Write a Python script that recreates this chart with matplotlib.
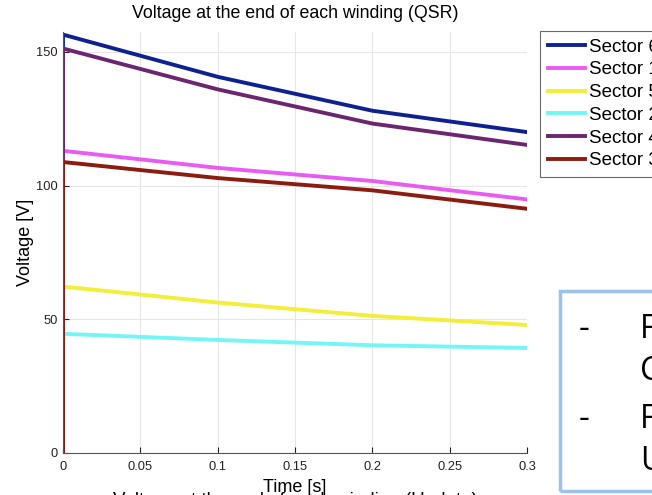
import matplotlib.pyplot as plt
from matplotlib.patches import Rectangle

plt.rcParams['font.family'] = ['Liberation Sans', 'DejaVu Sans']

# tiempos de muestreo y tension al final de cada devanado
t = [0, 0, 0.1, 0.2, 0.3]
sectores = ['Sector 6', 'Sector 1', 'Sector 5', 'Sector 2', 'Sector 4', 'Sector 3']
v_s6 = [0, 156.5, 140.7, 128.0, 120.0]
v_s1 = [0, 113.0, 106.6, 101.7, 94.8]
v_s5 = [0, 62.2, 56.2, 51.2, 47.8]
v_s2 = [0, 44.5, 42.2, 40.2, 39.2]
v_s4 = [0, 151.3, 136.0, 123.2, 115.2]
v_s3 = [0, 108.8, 102.8, 98.2, 91.3]
colores = ['#0d2290', '#e85cf2', '#f2ee3a', '#74f6f6', '#6b2670', '#8a1c10']

series = [v_s6, v_s1, v_s5, v_s2, v_s4, v_s3]

fig = plt.figure(figsize=(6.52, 4.95), dpi=100)
ax = fig.add_axes([0.0966, 0.0855, 0.7117, 0.85])

for nombre, v, c in zip(sectores, series, colores):
    ax.plot(t, v, color=c, linewidth=2.8, label=nombre, solid_joinstyle='round')

ax.set_xlim(0, 0.3)
ax.set_ylim(0, 157.5)
ax.set_xticks([0, 0.05, 0.1, 0.15, 0.2, 0.25, 0.3])
ax.set_xticklabels(['0', '0.05', '0.1', '0.15', '0.2', '0.25', '0.3'])
ax.set_yticks([0, 50, 100, 150])
ax.grid(True, color='#e6e6e6', linewidth=0.8)
ax.set_axisbelow(True)
for s in ['top', 'right']:
    ax.spines[s].set_visible(False)
for s in ['left', 'bottom']:
    ax.spines[s].set_color('#555555')
ax.tick_params(direction='in', length=4, labelsize=9.3, colors='#222222')
ax.tick_params(axis='x', pad=6)

ax.set_title('Voltage at the end of each winding (QSR)', fontsize=12.8, pad=10)
ax.set_ylabel('Voltage [V]', fontsize=13, labelpad=1.5)
fig.text(0.4525, 1 - 492 / 495, 'Time [s]', fontsize=13, ha='center', va='baseline')
fig.text(0.4525, 1 - 505 / 495, 'Voltage at the end of each winding (Update)',
         fontsize=13.5, ha='center', va='baseline')

leg = ax.legend(loc='upper left', bbox_to_anchor=(540 / 652, 1 - 31 / 495),
                bbox_transform=fig.transFigure, fontsize=13.5, frameon=True,
                fancybox=False, edgecolor='#444444', handlelength=2.0,
                handletextpad=0.2, labelspacing=0.3, borderpad=0.4,
                borderaxespad=0)
leg.get_frame().set_linewidth(0.8)

# cuadro de texto de la diapositiva
caja = Rectangle((560 / 652, 1 - 491 / 495), 0.3, 200 / 495,
                 transform=fig.transFigure, fill=False,
                 edgecolor='#9cc2e8', linewidth=2.5)
fig.patches.append(caja)
lineas = [('-', 'F', 325), ('', 'C', 368), ('-', 'F', 415), ('', 'U', 457)]
for guion, letra, y in lineas:
    if guion:
        fig.text(584 / 652, 1 - y / 495, guion, fontsize=24, family='Open Sans',
                 ha='center', va='center_baseline')
    fig.text(640 / 652, 1 - y / 495, letra, fontsize=23, family='Open Sans',
             ha='left', va='center_baseline')

fig.savefig('out.png', dpi=100)
